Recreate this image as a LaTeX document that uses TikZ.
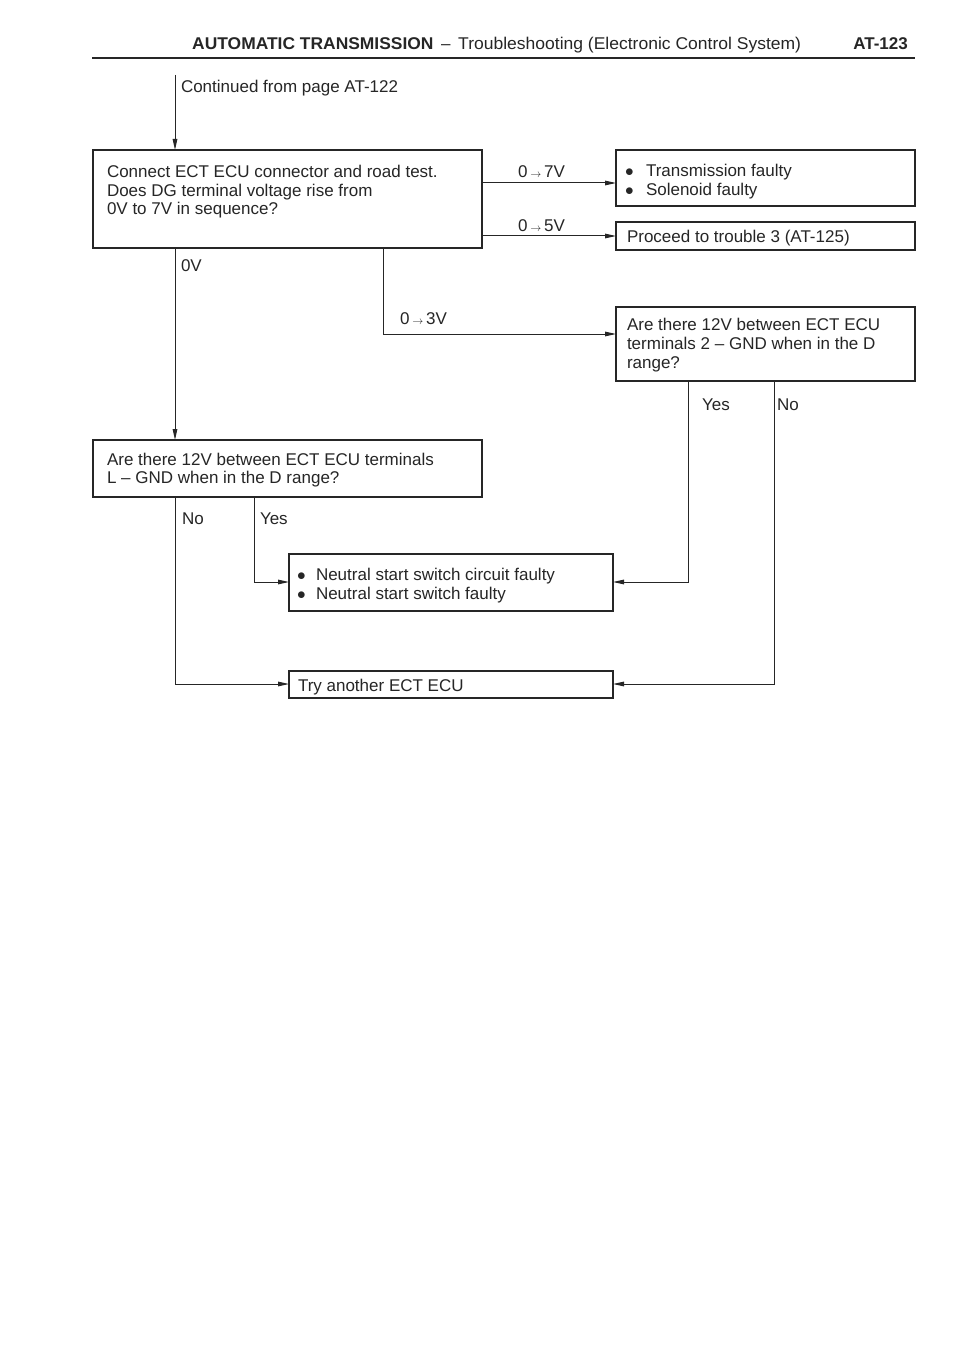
\documentclass[tikz,border=0pt]{standalone}
\usepackage{fontspec}
\setmainfont{Liberation Sans}
\usetikzlibrary{arrows.meta,calc}
\newcommand{\bodyfont}{\fontsize{17}{19}\selectfont}
\newcommand{\va}{\,{\fontsize{11}{11}\selectfont$\rightarrow$}\,}
\begin{document}
\begin{tikzpicture}[x=1pt,y=-1pt,
  box/.style={draw=black!85, line width=1.4pt, anchor=north west, inner sep=0pt, outer sep=0pt},
  txt/.style={anchor=base west, inner sep=0pt, outer sep=0pt, font=\bodyfont, text=black!85},
  ln/.style={draw=black!85, line width=1pt},
  arr/.style={ln, -{Triangle[length=11pt,width=4.6pt]}}]
\useasboundingbox[fill=white] (0,0) rectangle (960,1356);

% header
\node[anchor=base west, inner sep=0pt, font=\fontsize{17}{20}\selectfont\bfseries, text=black!85, xscale=1.025] (hdr) at (192,50)
  {AUTOMATIC TRANSMISSION};
\node[anchor=base west, inner sep=0pt, font=\fontsize{17}{20}\selectfont, text=black!85] (hdash) at (441,50) {--};
\node[anchor=base west, inner sep=0pt, font=\fontsize{17}{20}\selectfont, text=black!85, xscale=1.03] (hsub) at (458,50)
  {Troubleshooting (Electronic Control System)};
\node[anchor=base east, inner sep=0pt, font=\fontsize{17}{20}\selectfont\bfseries, text=black!85] (pg) at (908,50) {AT-123};
\draw[line width=2.6pt, black!85] (92,58) -- (915,58);

% boxes
\node[box, minimum width=389pt, minimum height=98pt] (b1) at (93,150) {};
\node[box, minimum width=299pt, minimum height=56pt] (b2) at (616,150) {};
\node[box, minimum width=299pt, minimum height=28pt] (b3) at (616,222) {};
\node[box, minimum width=299pt, minimum height=74pt] (b5) at (616,307) {};
\node[box, minimum width=389pt, minimum height=57pt] (b4) at (93,440) {};
\node[box, minimum width=324pt, minimum height=57pt] (b6) at (289,554) {};
\node[box, minimum width=324pt, minimum height=27pt] (b7) at (289,671) {};

% texts
\node[txt] (tc) at (181,93) {Continued from page AT-122};
\node[txt] (t1a) at (107,178) {Connect ECT ECU connector and road test.};
\node[txt] (t1b) at (107,196.5) {Does DG terminal voltage rise from};
\node[txt] (t1c) at (107,215) {0V to 7V in sequence?};

\node[txt] (t2bu) at (625,177) {$\bullet$};
\node[txt] (t2a) at (646,177) {Transmission faulty};
\node[txt] (t2bu2) at (625,196) {$\bullet$};
\node[txt] (t2b) at (646,196) {Solenoid faulty};

\node[txt] (t3) at (627,243) {Proceed to trouble 3 (AT-125)};

\node[txt] (t5a) at (627,330) {Are there 12V between ECT ECU};
\node[txt] (t5b) at (627,349) {terminals 2 -- GND when in the D};
\node[txt] (t5c) at (627,368) {range?};

\node[txt] (t4a) at (107,465) {Are there 12V between ECT ECU terminals};
\node[txt] (t4b) at (107,483.5) {L -- GND when in the D range?};

\node[txt] (t6bu) at (297,580) {$\bullet$};
\node[txt] (t6a) at (316,580) {Neutral start switch circuit faulty};
\node[txt] (t6bu2) at (297,599) {$\bullet$};
\node[txt] (t6b) at (316,599) {Neutral start switch faulty};

\node[txt] (t7) at (298,691) {Try another ECT ECU};

% branch labels
\node[txt] (l7) at (518,178) {0\va 7V};
\node[txt] (l5) at (518,232) {0\va 5V};
\node[txt] (l0) at (181,272) {0V};
\node[txt] (l3) at (400,324) {0\va 3V};
\node[txt] (y5) at (702,410) {Yes};
\node[txt] (n5) at (777,410) {No};
\node[txt] (n4) at (182,524) {No};
\node[txt] (y4) at (260,524) {Yes};

% connectors
\coordinate (start) at (175,75);
\draw[arr] (start) -- (start |- b1.north);
\draw[arr] ([yshift=-33pt]b1.north east) -- ([yshift=-33pt]b2.north west);
\draw[arr] ([yshift=-86pt]b1.north east) -- ([yshift=-86pt]b1.north east -| b3.west);
\draw[arr] ([xshift=82pt]b1.south west) -- ([xshift=82pt]b4.north west);
\draw[arr] ([xshift=290pt]b1.south west) |- ([yshift=-27pt]b5.north west);
\draw[arr] ([xshift=72pt]b5.south west) |- ([yshift=-28pt]b6.north east);
\draw[arr] ([xshift=158pt]b5.south west) |- ([yshift=-13pt]b7.north east);
\draw[arr] ([xshift=82pt]b4.south west) |- ([yshift=-13pt]b7.north west);
\draw[arr] ([xshift=161pt]b4.south west) |- ([yshift=-28pt]b6.north west);
\end{tikzpicture}
\end{document}
